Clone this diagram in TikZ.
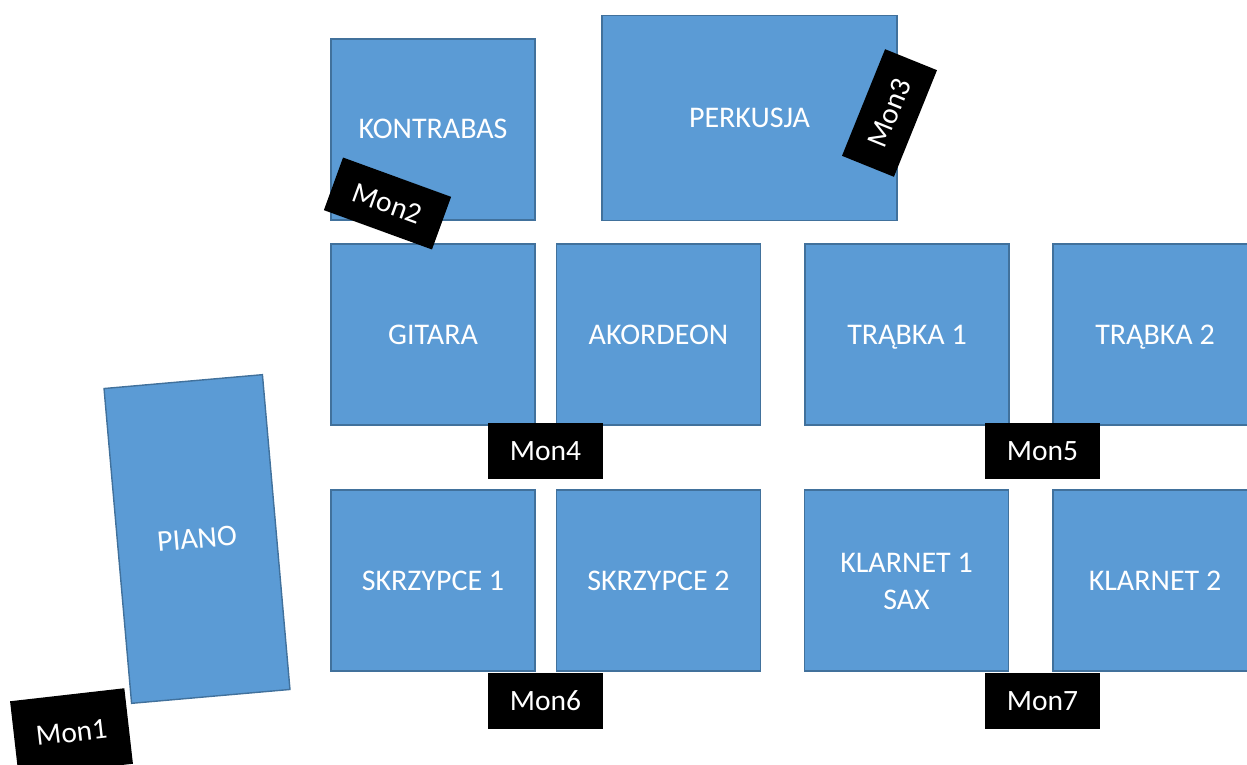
\documentclass[tikz,border=0pt]{standalone}
\usepackage{fontspec}
\setmainfont{Carlito}
\definecolor{boxfill}{HTML}{5B9BD5}
\definecolor{boxline}{HTML}{41719C}
\tikzset{
  stagebox/.style={draw=boxline, fill=boxfill, line width=1.4pt, inner sep=0pt,
    minimum width=204pt, minimum height=181pt, text=white, align=center,
    text height=19pt, text depth=0pt,
    font=\fontsize{30}{36.6}\selectfont},
  monbox/.style={fill=black, inner sep=0pt, minimum width=115pt, minimum height=56pt,
    text height=19pt, text depth=0pt,
    text=white, font=\fontsize{29.5}{34}\selectfont}
}
\begin{document}
\begin{tikzpicture}[x=1pt,y=-1pt]
\clip (0,0) rectangle (1247,765);
% instrument areas
\node[stagebox] (kontrabas) at (433,129.5) {KONTRABAS};
\node[stagebox, minimum width=295pt, minimum height=205pt] (perkusja) at (749.5,118) {PERKUSJA};
\node[stagebox] (gitara) at (433,334.5) {GITARA};
\node[stagebox] (akordeon) at (658.5,334.5) {AKORDEON};
\node[stagebox] (trabka1) at (907,334.5) {TRĄBKA 1};
\node[stagebox] (trabka2) at (1155,334.5) {TRĄBKA 2};
\node[stagebox] (skrzypce1) at (433,580.5) {SKRZYPCE 1};
\node[stagebox] (skrzypce2) at (658.5,580.5) {SKRZYPCE 2};
\node[stagebox, text height=58pt] (klarnet1) at (906.5,580.5) {KLARNET 1\\SAX};
\node[stagebox] (klarnet2) at (1155,580.5) {KLARNET 2};
\node[stagebox, minimum width=159pt, minimum height=316pt, rotate=5] (piano) at (197,539) {PIANO};
% monitors
\node[monbox, minimum height=76pt, rotate=6.5] (mon1) at (71.5,732.5) {Mon1};
\node[monbox, rotate=-20] (mon2) at (387.5,203.5) {Mon2};
\node[monbox, rotate=68] (mon3) at (889.5,113) {Mon3};
\node[monbox] (mon4) at (545.5,450.5) {Mon4};
\node[monbox] (mon5) at (1042.5,451) {Mon5};
\node[monbox] (mon6) at (545.5,700.5) {Mon6};
\node[monbox] (mon7) at (1042.5,700.5) {Mon7};
\end{tikzpicture}
\end{document}
